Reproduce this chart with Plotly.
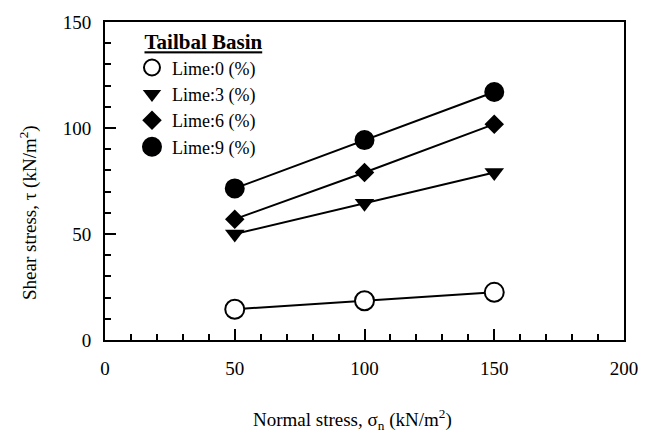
import plotly.graph_objects as go

normal_stress = [50, 100, 150]
lime_0 = [14.5, 18.5, 22.5]
lime_3 = [50, 64.5, 79]
lime_6 = [57, 79, 101.8]
lime_9 = [71.5, 94.3, 117]
series_names = ["Lime:0 (%)", "Lime:3 (%)", "Lime:6 (%)", "Lime:9 (%)"]
series_values = [lime_0, lime_3, lime_6, lime_9]
x_ticks = [0, 50, 100, 150, 200]
y_ticks = [0, 50, 100, 150]

FONT = "Liberation Serif"

styles = [
    dict(symbol="circle", size=19, color="white", line=dict(width=2, color="black")),
    dict(symbol="triangle-down", size=17, color="black"),
    dict(symbol="diamond", size=15, color="black"),
    dict(symbol="circle", size=16, color="black", line=dict(width=4, color="black")),
]

fig = go.Figure()
for name, vals in zip(series_names, series_values):
    fig.add_trace(go.Scatter(x=normal_stress, y=vals, mode="lines",
                             line=dict(color="black", width=2),
                             showlegend=False, hoverinfo="skip"))
for i, (name, vals, st) in enumerate(zip(series_names, series_values, styles)):
    fig.add_trace(go.Scatter(x=normal_stress, y=vals, mode="markers", name=name,
                             marker=st, legendgroup=f"g{i}"))

axis_common = dict(showline=True, linecolor="black", linewidth=2, mirror=True,
                   ticks="inside", ticklen=11, tickwidth=2, tickcolor="black",
                   showgrid=False, zeroline=False,
                   tickfont=dict(family=FONT, size=19, color="black"))

fig.update_xaxes(range=[0, 200], tickvals=x_ticks, ticklabelstandoff=10,
                 minor=dict(dtick=10, ticks="inside", ticklen=6, tickwidth=2, tickcolor="black", showgrid=False),
                 **axis_common)
fig.update_yaxes(range=[0, 150], tickvals=y_ticks, ticklabelstandoff=8,
                 minor=dict(dtick=10, ticks="inside", ticklen=6, tickwidth=2, tickcolor="black", showgrid=False),
                 **axis_common)

fig.update_layout(
    width=653, height=437,
    margin=dict(l=105, r=29, t=16, b=97),
    paper_bgcolor="white", plot_bgcolor="white",
    font=dict(family=FONT, color="black"),
    legend=dict(x=0.052, y=1.0, xanchor="left", yanchor="top",
                bgcolor="rgba(0,0,0,0)", borderwidth=0,
                font=dict(family=FONT, size=18, color="black"),
                tracegroupgap=0, traceorder="normal",
                title=dict(text="&nbsp;&nbsp;<b><span style='text-decoration:underline'>Tailbal Basin</span></b>",
                           font=dict(family=FONT, size=21, color="black"))),
    annotations=[
        dict(text="Normal stress, σ<sub>n</sub> (kN/m<sup>2</sup>)", xref="paper", yref="paper",
             x=0.476, y=-0.25, xanchor="center", yanchor="middle", showarrow=False,
             font=dict(family=FONT, size=19, color="black")),
        dict(text="Shear stress, τ (kN/m<sup>2</sup>)", xref="paper", yref="paper",
             x=-0.146, y=0.40, xanchor="center", yanchor="middle", textangle=-90, showarrow=False,
             font=dict(family=FONT, size=19, color="black")),
    ],
)

fig.write_html("out.html")
